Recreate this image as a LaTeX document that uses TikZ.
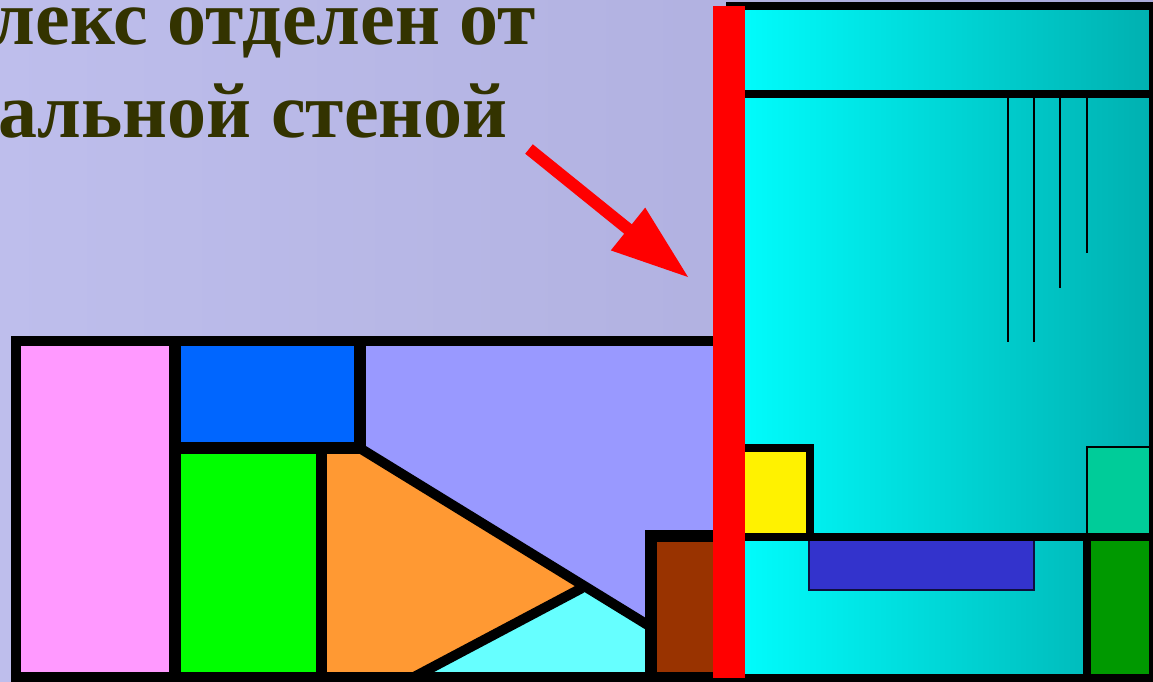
\documentclass[tikz,border=0pt]{standalone}
\usepackage{fontspec}
\setmainfont{Liberation Serif}
\definecolor{bgL}{RGB}{190,190,236}
\definecolor{bgR}{RGB}{170,170,218}
\definecolor{txt}{RGB}{51,51,0}
\definecolor{cyL}{RGB}{0,255,255}
\definecolor{cyR}{RGB}{0,176,176}
\definecolor{pinkc}{RGB}{255,153,255}
\definecolor{bluec}{RGB}{0,102,255}
\definecolor{lav}{RGB}{153,153,255}
\definecolor{orangec}{RGB}{255,153,51}
\definecolor{lcyan}{RGB}{102,255,255}
\definecolor{brownc}{RGB}{153,51,0}
\definecolor{navy}{RGB}{51,51,204}
\definecolor{teal}{RGB}{0,204,153}
\definecolor{dgreen}{RGB}{0,153,0}
\begin{document}
\begin{tikzpicture}[x=1pt,y=-1pt,
  wall/.style={black,line width=#1},
  wall/.default=10,
  thinline/.style={black,line width=2},
  title/.style={text=txt,font=\fontsize{78}{92}\selectfont\bfseries,inner sep=0pt}]
\useasboundingbox (0,0) rectangle (1153,681);
\clip (0,0) rectangle (1153,681);
% background
\shade[left color=bgL,right color=bgR] (0,0) rectangle (1153,681);
% title
\node[title,anchor=base east] (t1) at (536,44) {лекс отделен от};
\node[title,anchor=base east] (t2) at (508,137) {альной стеной};
% ---------- left building fills
\fill[pinkc] (16,341) rectangle (175,677);
\fill[bluec] (175,341) rectangle (360,448);
\fill[green] (175,448) rectangle (321,677);
\fill[orangec] (321,448) -- (360,448) -- (580,588) -- (414,677) -- (321,677) -- cycle;
\fill[lav] (360,341) -- (730,341) -- (730,536) -- (651,536) -- (651,627) -- (360,448) -- cycle;
\fill[lcyan] (414,677) -- (580,588) -- (651,627) -- (651,677) -- cycle;
\fill[brownc] (651,536) rectangle (730,677);
% ---------- left building lines
\draw[wall] (726,341) -- (16,341) -- (16,677) -- (726,677);
\draw[wall=12] (175,341) -- (175,677);
\draw[wall=12] (360,341) -- (360,448) -- (175,448);
\draw[wall=11] (321,448) -- (321,677);
\draw[wall] (358,447) -- (651,627);
\draw[wall] (582,588) -- (414,677);
\draw[wall=12] (651,677) -- (651,536) -- (726,536);
% ---------- right building
\shade[left color=cyL,right color=cyR] (726,6) rectangle (1153,677);
\fill[yellow] (726,448) rectangle (809,537);
\fill[navy] (809,537) rectangle (1034,590);
\draw[black!70!navy,line width=1.5] (809,537) rectangle (1034,590);
\fill[dgreen] (1087,537) rectangle (1153,677);
\fill[teal] (1087,447) rectangle (1153,536);
\draw[black,line width=2] (1087,447) rectangle (1155,536);
\draw[wall=8] (726,6) -- (1153,6) -- (1153,677.5) -- (726,677.5);
\draw[wall=8] (726,94) -- (1153,94);
\draw[thinline] (1008,98) -- (1008,342);
\draw[thinline] (1034,98) -- (1034,342);
\draw[thinline] (1060,98) -- (1060,288);
\draw[thinline] (1087,98) -- (1087,253);
\draw[wall=8] (726,448) -- (809.5,448) -- (809.5,537);
\draw[wall=8] (726,537) -- (1153,537);
\draw[wall=8] (1087,537) -- (1087,677);
% ---------- red wall
\fill[red] (713,6) rectangle (745,678);
% ---------- red arrow
\fill[red] (525.2,153.7) -- (624.2,233.7) -- (610.8,250.4) -- (688,277)
  -- (645.2,207.6) -- (631.8,224.3) -- (532.8,144.3) -- cycle;
\end{tikzpicture}
\end{document}
